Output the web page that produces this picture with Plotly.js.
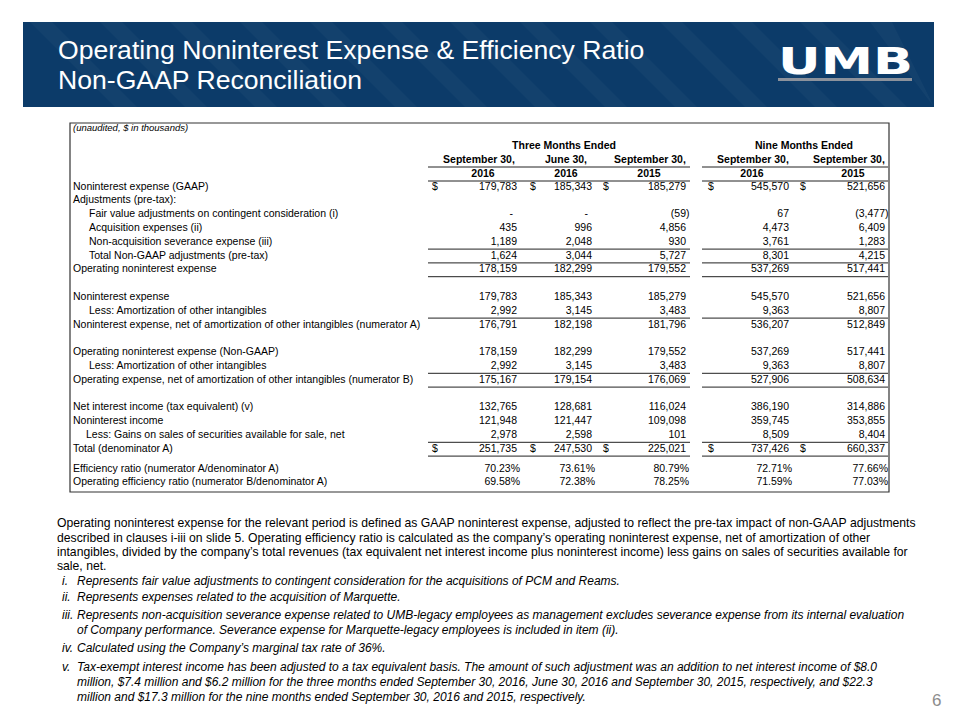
<!DOCTYPE html>
<html>
<head>
<meta charset="utf-8">
<script src="https://cdn.plot.ly/plotly-3.0.1.min.js"></script>
<style>
  html, body { margin: 0; padding: 0; background: #ffffff; }
  #chart { width: 960px; height: 720px; }
</style>
</head>
<body>
<div id="chart"></div>
<script>
// ---------------- DATA ----------------
const titleLines = ["Operating Noninterest Expense & Efficiency Ratio", "Non-GAAP Reconciliation"];
const unitNote = "(unaudited, $ in thousands)";
const groupHeaders = ["Three Months Ended", "Nine Months Ended"];
const periodHeaders = ["September 30,", "June 30,", "September 30,", "September 30,", "September 30,"];
const yearHeaders = ["2016", "2016", "2015", "2016", "2015"];

const rowLabels = [
  "Noninterest expense (GAAP)",
  "Adjustments (pre-tax):",
  "Fair value adjustments on contingent consideration (i)",
  "Acquisition expenses (ii)",
  "Non-acquisition severance expense (iii)",
  "Total Non-GAAP adjustments (pre-tax)",
  "Operating noninterest expense",
  "",
  "Noninterest expense",
  "Less: Amortization of other intangibles",
  "Noninterest expense, net of amortization of other intangibles (numerator A)",
  "",
  "Operating noninterest expense (Non-GAAP)",
  "Less: Amortization of other intangibles",
  "Operating expense, net of amortization of other intangibles (numerator B)",
  "",
  "Net interest income (tax equivalent) (v)",
  "Noninterest income",
  "Less: Gains on sales of securities available for sale, net",
  "Total (denominator A)",
  "Efficiency ratio (numerator A/denominator A)",
  "Operating efficiency ratio (numerator B/denominator A)"
];
// 0 = flush, 1 = indented, 2 = slightly indented
const rowIndent = [0,0,1,1,1,1,0,0,0,1,0,0,0,1,0,0,0,0,2,0,0,0];

// values in $ thousands (null = blank cell)
const q3_2016 = [179783, null, 0, 435, 1189, 1624, 178159, null, 179783, 2992, 176791, null, 178159, 2992, 175167, null, 132765, 121948, 2978, 251735];
const q2_2016 = [185343, null, 0, 996, 2048, 3044, 182299, null, 185343, 3145, 182198, null, 182299, 3145, 179154, null, 128681, 121447, 2598, 247530];
const q3_2015 = [185279, null, -59, 4856, 930, 5727, 179552, null, 185279, 3483, 181796, null, 179552, 3483, 176069, null, 116024, 109098, 101, 225021];
const ytd_2016 = [545570, null, 67, 4473, 3761, 8301, 537269, null, 545570, 9363, 536207, null, 537269, 9363, 527906, null, 386190, 359745, 8509, 737426];
const ytd_2015 = [521656, null, -3477, 6409, 1283, 4215, 517441, null, 521656, 8807, 512849, null, 517441, 8807, 508634, null, 314886, 353855, 8404, 660337];

const efficiencyRatio = [70.23, 73.61, 80.79, 72.71, 77.66];
const operatingEfficiencyRatio = [69.58, 72.38, 78.25, 71.59, 77.03];

const dollarRows = [0, 19];

const paragraphLines = [
  "Operating noninterest expense for the relevant period is defined as GAAP noninterest expense, adjusted to reflect the pre-tax impact of non-GAAP adjustments",
  "described in clauses i-iii on slide 5. Operating efficiency ratio is calculated as the company’s operating noninterest expense, net of amortization of other",
  "intangibles, divided by the company’s total revenues (tax equivalent net interest income plus noninterest income) less gains on sales of securities available for",
  "sale, net."
];
const noteNumerals = ["i.", "ii.", "iii.", "", "iv.", "v.", "", ""];
const noteLines = [
  "Represents fair value adjustments to contingent consideration for the acquisitions of PCM and Reams.",
  "Represents expenses related to the acquisition of Marquette.",
  "Represents non-acquisition severance expense related to UMB-legacy employees as management excludes severance expense from its internal evaluation",
  "of Company performance. Severance expense for Marquette-legacy employees is included in item (ii).",
  "Calculated using the Company’s marginal tax rate of 36%.",
  "Tax-exempt interest income has been adjusted to a tax equivalent basis. The amount of such adjustment was an addition to net interest income of $8.0",
  "million, $7.4 million and $6.2 million for the three months ended September 30, 2016, June 30, 2016 and September 30, 2015, respectively, and $22.3",
  "million and $17.3 million for the nine months ended September 30, 2016 and 2015, respectively."
];
const pageNumber = "6";

// ---------------- LAYOUT CONSTANTS ----------------
const FONT = "Liberation Sans, Arial, sans-serif";
const FS = 10.5;
const BLUE = "#0c3b69";
const colRight = [517, 592, 686, 789, 885];
const dollarX = [432, 530, 603, 708, 800];
const periodCenter = [479, 566, 650, 753, 849];
const yearCenter = [483, 566, 649, 752, 853];
const groupCenter = [564, 804];
const groupSpan = [[428, 690], [702, 888]];
const labelX = [73, 89, 86];
const rowY = i => 187 + 13.8 * i + (i >= 20 ? 6 : 0);
const lineBelow = i => rowY(i) + 6.9;
const paraY = [523, 537.5, 552, 566];
const noteY = [580.5, 597, 615, 630, 648, 667, 682, 697];

const columns = [q3_2016, q2_2016, q3_2015, ytd_2016, ytd_2015];

function fmt(v) {
  if (v === 0) return "-";
  const s = Math.abs(v).toLocaleString("en-US");
  return v < 0 ? "(" + s + ")" : s;
}
function xFor(v, c) {
  if (v === 0) return colRight[c] - 4;
  if (v < 0) return colRight[c] + 3.5;
  return colRight[c];
}

const traces = [];
const baseText = (extra) => Object.assign({
  type: "scatter", mode: "text", hoverinfo: "skip", cliponaxis: false, showlegend: false
}, extra);

// row labels
const lblIdx = rowLabels.map((t, i) => i).filter(i => rowLabels[i] !== "");
traces.push(baseText({
  x: lblIdx.map(i => labelX[rowIndent[i]]),
  y: lblIdx.map(i => rowY(i)),
  text: lblIdx.map(i => rowLabels[i]),
  textposition: "middle right",
  textfont: { family: FONT, size: FS, color: "#000" }
}));

// values
columns.forEach((col, c) => {
  const idx = col.map((v, i) => i).filter(i => col[i] !== null);
  traces.push(baseText({
    x: idx.map(i => xFor(col[i], c)),
    y: idx.map(i => rowY(i)),
    text: idx.map(i => fmt(col[i])),
    textposition: "middle left",
    textfont: { family: FONT, size: FS, color: "#000" }
  }));
});

// ratios
[efficiencyRatio, operatingEfficiencyRatio].forEach((arr, k) => {
  traces.push(baseText({
    x: arr.map((v, c) => colRight[c] + 3),
    y: arr.map(() => rowY(20 + k)),
    text: arr.map(v => v.toFixed(2) + "%"),
    textposition: "middle left",
    textfont: { family: FONT, size: FS, color: "#000" }
  }));
});

// dollar signs
dollarRows.forEach(r => {
  traces.push(baseText({
    x: dollarX,
    y: dollarX.map(() => rowY(r)),
    text: dollarX.map(() => "$"),
    textposition: "middle right",
    textfont: { family: FONT, size: FS, color: "#000" }
  }));
});

// headers
traces.push(baseText({
  x: groupCenter, y: groupCenter.map(() => 146), text: groupHeaders,
  textposition: "middle center",
  textfont: { family: FONT, size: FS, color: "#000", weight: "bold" }
}));
traces.push(baseText({
  x: periodCenter, y: periodCenter.map(() => 160), text: periodHeaders,
  textposition: "middle center",
  textfont: { family: FONT, size: FS, color: "#000", weight: "bold" }
}));
traces.push(baseText({
  x: yearCenter, y: yearCenter.map(() => 174), text: yearHeaders,
  textposition: "middle center",
  textfont: { family: FONT, size: FS, color: "#000", weight: "bold" }
}));
traces.push(baseText({
  x: [73], y: [129], text: [unitNote],
  textposition: "middle right",
  textfont: { family: FONT, size: 9.5, color: "#000", style: "italic" }
}));

// ---------------- SHAPES ----------------
const shapes = [];
shapes.push({ type: "rect", xref: "x", yref: "y", x0: 23, x1: 934, y0: 22, y1: 107,
  fillcolor: BLUE, line: { width: 0 }, layer: "below" });
// subtle diagonal stripes in banner
for (let k = 0; k < 13; k++) {
  const sx = 30 + k * 70;
  const x2 = Math.min(sx + 107, 934), x3 = Math.min(sx + 85, 934);
  shapes.push({ type: "path", xref: "x", yref: "y",
    path: `M ${sx} 22 L ${Math.min(sx + 22, 934)} 22 L ${x2} 107 L ${x3} 107 Z`,
    fillcolor: "rgba(255,255,255,0.03)", line: { width: 0 }, layer: "below" });
}
shapes.push({ type: "rect", xref: "x", yref: "y", x0: 778, x1: 912, y0: 78, y1: 81,
  fillcolor: "#8c929c", line: { width: 0 } });
// table border
shapes.push({ type: "rect", xref: "x", yref: "y", x0: 70, x1: 889, y0: 123, y1: 492,
  line: { color: "#333", width: 1.2 }, fillcolor: "rgba(0,0,0,0)" });
// underlines
const lineYs = [167, 181].concat([4, 5, 6, 9, 13, 14, 18, 19].map(lineBelow));
lineYs.forEach(y => {
  groupSpan.forEach(g => {
    shapes.push({ type: "line", xref: "x", yref: "y", x0: g[0], x1: g[1], y0: y, y1: y,
      line: { color: "#222", width: 1 } });
  });
});

// ---------------- ANNOTATIONS ----------------
const annotations = [];
titleLines.forEach((t, i) => {
  annotations.push({ xref: "x", yref: "y", x: 56, y: 50 + i * 30, text: t, showarrow: false,
    xanchor: "left", yanchor: "middle", font: { family: FONT, size: 26.6, color: "#ffffff" } });
});
annotations.push({ xref: "x", yref: "y", x: 845, y: 61, text: "<b>UMB</b>", showarrow: false,
  xanchor: "center", yanchor: "middle", font: { family: "DejaVu Sans, sans-serif", size: 37, color: "#ffffff" } });

paragraphLines.forEach((t, i) => {
  annotations.push({ xref: "x", yref: "y", x: 55, y: paraY[i], text: t, showarrow: false,
    xanchor: "left", yanchor: "middle", font: { family: FONT, size: 12.2, color: "#000" } });
});
noteLines.forEach((t, i) => {
  annotations.push({ xref: "x", yref: "y", x: 75, y: noteY[i], text: t, showarrow: false,
    xanchor: "left", yanchor: "middle", font: { family: FONT, size: 12, color: "#000", style: "italic" } });
  if (noteNumerals[i]) {
    annotations.push({ xref: "x", yref: "y", x: 60, y: noteY[i], text: noteNumerals[i], showarrow: false,
      xanchor: "left", yanchor: "middle", font: { family: FONT, size: 12, color: "#000", style: "italic" } });
  }
});
annotations.push({ xref: "x", yref: "y", x: 936, y: 700, text: pageNumber, showarrow: false,
  xanchor: "center", yanchor: "middle", font: { family: FONT, size: 17, color: "#8c8c8c" } });

const layout = {
  width: 960, height: 720,
  margin: { l: 0, r: 0, t: 0, b: 0, pad: 0 },
  paper_bgcolor: "#ffffff", plot_bgcolor: "#ffffff",
  xaxis: { range: [0, 960], visible: false, fixedrange: true },
  yaxis: { range: [720, 0], visible: false, fixedrange: true },
  showlegend: false,
  shapes: shapes,
  annotations: annotations
};

Plotly.newPlot("chart", traces, layout, { staticPlot: true, displayModeBar: false }).then(() => {
  // widen the logo lettering to match the extended wordmark
  document.querySelectorAll("#chart .annotation-text").forEach(el => {
    if (el.textContent === "UMB") {
      const bb = el.getBBox();
      const cx = bb.x + bb.width / 2;
      el.setAttribute("transform", `translate(${cx},0) scale(1.42,1) translate(${-cx},0)`);
    }
  });
});
</script>
</body>
</html>
